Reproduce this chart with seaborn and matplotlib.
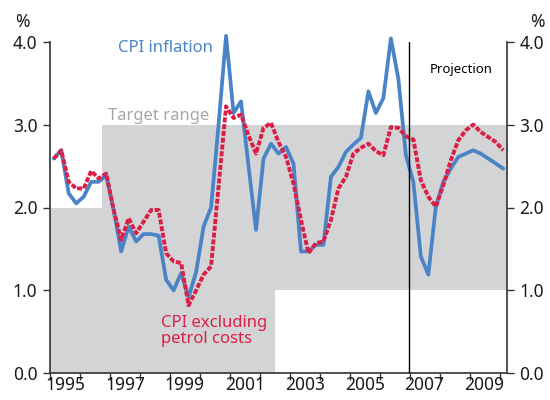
import numpy as np
import pandas as pd
import matplotlib
matplotlib.use("Agg")
import matplotlib.pyplot as plt
import seaborn as sns

# Quarterly data, 1995 Q1 to 2010 Q1 (projection from 2007)
quarters = pd.period_range("1995Q1", "2010Q1", freq="Q")
cpi_inflation = [2.59, 2.69, 2.17, 2.05, 2.13, 2.31, 2.31, 2.39,
                 1.97, 1.47, 1.77, 1.59, 1.68, 1.68, 1.66, 1.13,
                 1.00, 1.21, 0.92, 1.22, 1.77, 2.00, 3.00, 4.07,
                 3.14, 3.28, 2.50, 1.73, 2.59, 2.77, 2.65, 2.73,
                 2.53, 1.47, 1.47, 1.55, 1.55, 2.37, 2.49, 2.67,
                 2.76, 2.84, 3.40, 3.14, 3.32, 4.04, 3.55, 2.63,
                 2.31, 1.41, 1.19, 2.01, 2.31, 2.47, 2.61, 2.65,
                 2.69, 2.65, 2.59, 2.53, 2.47]
cpi_ex_petrol = [2.59, 2.69, 2.31, 2.23, 2.23, 2.44, 2.35, 2.41,
                 1.97, 1.61, 1.87, 1.69, 1.83, 1.97, 1.97, 1.45,
                 1.35, 1.33, 0.82, 1.00, 1.19, 1.29, 2.25, 3.22,
                 3.08, 3.12, 2.87, 2.65, 2.96, 3.02, 2.79, 2.61,
                 2.29, 1.85, 1.45, 1.57, 1.59, 1.85, 2.23, 2.37,
                 2.65, 2.72, 2.77, 2.68, 2.63, 2.97, 2.96, 2.86,
                 2.82, 2.33, 2.13, 2.01, 2.27, 2.57, 2.81, 2.93,
                 3.00, 2.91, 2.85, 2.79, 2.69]

# Target range (step bounds)
target_dates = [1995.0, 1996.75, 2002.5, 2010.25]
target_low = [0, 0, 1, 1]
target_high = [2, 3, 3, 3]

projection_start = 2006.98
year_ticks = list(range(1995, 2011))
year_labels = [str(y) for y in range(1995, 2010, 2)]
y_ticks = [0.0, 1.0, 2.0, 3.0, 4.0]

df = pd.DataFrame({
    "date": [q.year + (q.quarter - 0.5) / 4 for q in quarters],
    "CPI inflation": cpi_inflation,
    "CPI excluding petrol costs": cpi_ex_petrol,
})

sns.set_style("white")
plt.rcParams["font.family"] = ["Noto Sans", "DejaVu Sans"]

blue = "#4a84c6"
red = "#dc1f46"
grey = "#d3d4d6"
axis_col = "#333333"
txt = "#1a1a1a"

fig = plt.figure(figsize=(5.5, 4.0), dpi=100)
ax = fig.add_axes([50 / 550, 1 - 373.3 / 400, 457 / 550, 331.6 / 400])

# shaded target band
ax.fill_between(target_dates, target_low, target_high, step="post",
                color=grey, linewidth=0, zorder=0)

sns.lineplot(data=df, x="date", y="CPI inflation", ax=ax, color=blue,
             linewidth=2.7, clip_on=False, zorder=3)
sns.lineplot(data=df, x="date", y="CPI excluding petrol costs", ax=ax,
             color=red, linewidth=2.8, linestyle=(0, (1.3, 0.45)),
             clip_on=False, zorder=4)

ax.axvline(projection_start, color="black", linewidth=1.0, zorder=5)

ax.set_xlim(1995.0, 2010.25)
ax.set_ylim(0, 4.0)
ax.set_xlabel("")
ax.set_ylabel("")

# ticks at year boundaries, labels in the middle of odd years
ax.set_xticks(year_ticks)
ax.set_xticklabels([])
ax.set_xticks([y + 0.5 for y in range(1995, 2010, 2)], minor=True)
ax.set_xticklabels(year_labels, minor=True)
ax.tick_params(axis="x", which="major", length=5, width=1, color=axis_col,
               direction="out", bottom=True)
ax.tick_params(axis="x", which="minor", length=0, pad=2, labelsize=12.5,
               colors=txt)

ax.set_yticks(y_ticks)
ax.set_yticklabels([f"{v:.1f}" for v in y_ticks])
ax.tick_params(axis="y", length=5, width=1, color=axis_col, direction="out",
               left=True, pad=4, labelsize=12.5, labelcolor=txt)

ax2 = ax.twinx()
ax2.set_ylim(ax.get_ylim())
ax2.set_yticks(y_ticks)
ax2.set_yticklabels([f"{v:.1f}" for v in y_ticks])
ax2.tick_params(axis="y", length=5, width=1, color=axis_col, direction="out",
                right=True, pad=4, labelsize=12.5, labelcolor=txt)

for a in (ax, ax2):
    a.spines["top"].set_visible(False)
    for s in ("left", "right", "bottom"):
        a.spines[s].set_color(axis_col)
        a.spines[s].set_linewidth(1.2)
ax.spines["right"].set_visible(False)
ax2.spines["left"].set_visible(False)
ax2.spines["bottom"].set_visible(False)

ax.text(1997.27, 3.92, "CPI inflation", color=blue, fontsize=12,
        ha="left", va="center", zorder=6)
ax.text(1996.93, 3.10, "Target range", color="#a6a6a6", fontsize=12,
        ha="left", va="center", zorder=1)
ax.text(1998.7, 0.51, "CPI excluding\npetrol costs", color=red, fontsize=12,
        ha="left", va="center", linespacing=1.0, zorder=6)
ax.text(2007.67, 3.66, "Projection", color="black", fontsize=9.5,
        ha="left", va="center", zorder=6)

fig.text(15 / 550, 1 - 22 / 400, "%", fontsize=12.5, ha="left", va="center",
         color=txt)
fig.text(530 / 550, 1 - 22 / 400, "%", fontsize=12.5, ha="left", va="center",
         color=txt)

fig.savefig("out.png", dpi=100)
